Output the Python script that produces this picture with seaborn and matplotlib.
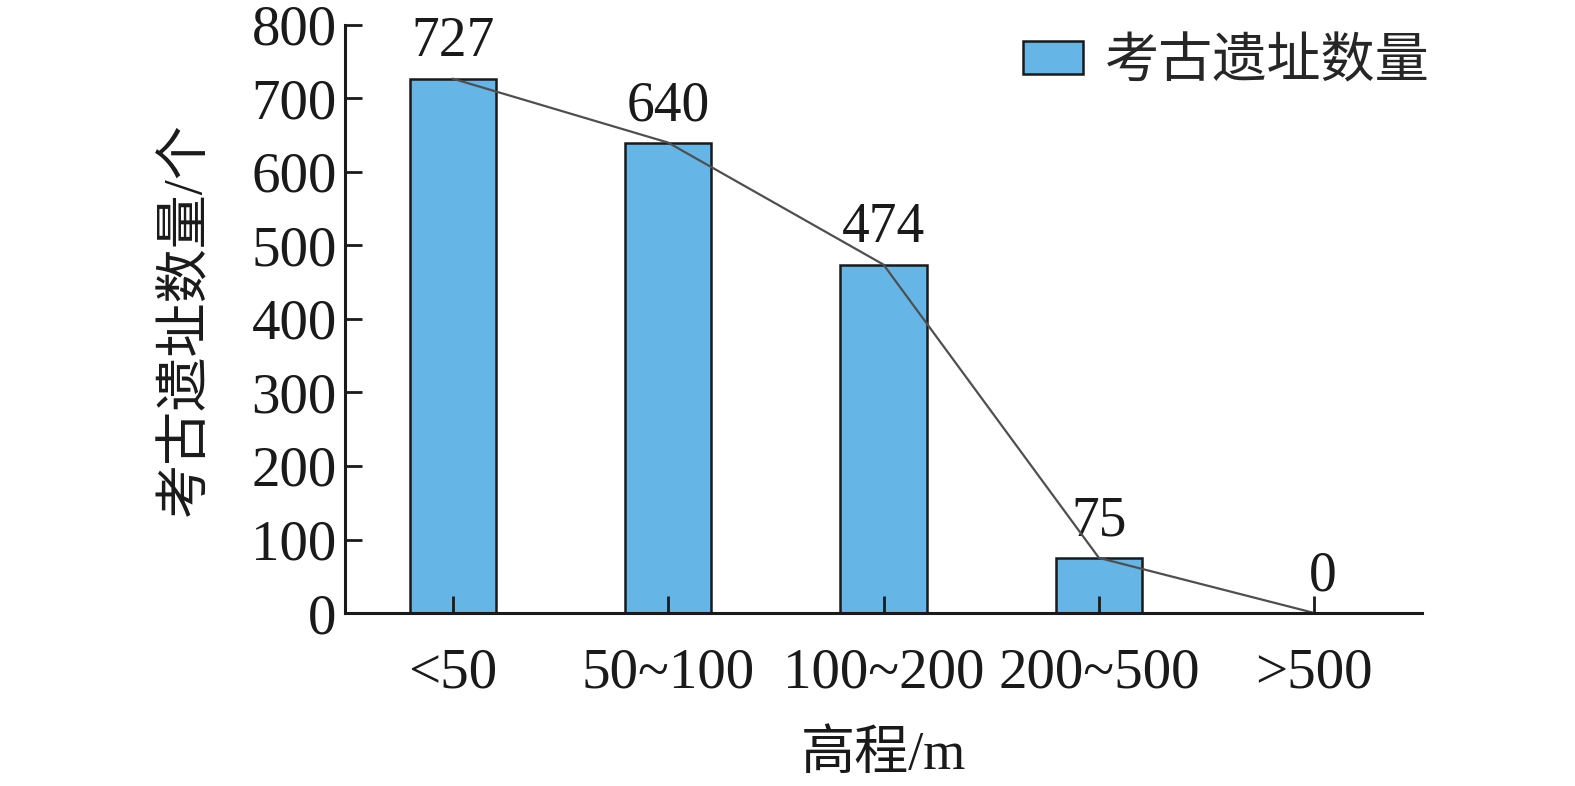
import matplotlib
matplotlib.use("Agg")
import matplotlib.pyplot as plt
import seaborn as sns
import numpy as np
import pandas as pd

categories = ["<50", "50~100", "100~200", "200~500", ">500"]
counts = [727, 640, 474, 75, 0]
yticks = [0, 100, 200, 300, 400, 500, 600, 700, 800]
series_name = "考古遗址数量"
xlabel = "高程/m"
ylabel = "考古遗址数量/个"

sns.set_theme(style="ticks")
plt.rcParams['font.family'] = ['Liberation Serif', 'Noto Sans CJK SC']
plt.rcParams['axes.unicode_minus'] = False

fig = plt.figure(figsize=(15.75, 7.86), dpi=100)
ax = fig.add_axes([345/1575, 1 - 613/786, (1422-345)/1575, (613-25)/786])

df = pd.DataFrame({"cat": categories, "count": counts})
sns.barplot(data=df, x="cat", y="count", ax=ax, color="#65B6E6", width=0.4,
            edgecolor="#1a1a1a", linewidth=1.8, saturation=1, label=series_name)

xs = np.arange(len(categories))
ax.plot(xs, counts, color="#4f4f4f", lw=1.6, zorder=5)

for x, v in zip(xs, counts):
    dx = 0.04 if v == 0 else 0
    ax.text(x + dx, v + 14, str(v), ha="center", va="bottom", fontsize=40, color="#1a1a1a")

ax.set_axisbelow(False)
ax.set_xlim(-0.5, 4.5)
ax.set_ylim(0, 800)
ax.set_yticks(yticks)
ax.set_yticklabels([str(t) for t in yticks])
ax.tick_params(axis="both", direction="in", length=12, width=2, labelsize=41, colors="#1a1a1a", pad=6)
ax.tick_params(axis="x", pad=25)
for s in ["top", "right"]:
    ax.spines[s].set_visible(False)
for s in ["left", "bottom"]:
    ax.spines[s].set_linewidth(2.2)
    ax.spines[s].set_color("#1a1a1a")
    ax.spines[s].set_zorder(10)

ax.set_xlabel(xlabel, fontsize=39, color="#1a1a1a", labelpad=22)
ax.set_ylabel(ylabel, fontsize=39, color="#1a1a1a", labelpad=28)

leg = ax.legend(loc="upper right", bbox_to_anchor=(1.052, 1.06), frameon=False, fontsize=39,
                handlelength=1.1, handleheight=0.55, handletextpad=0.4)

fig.savefig("out.png", dpi=100)
